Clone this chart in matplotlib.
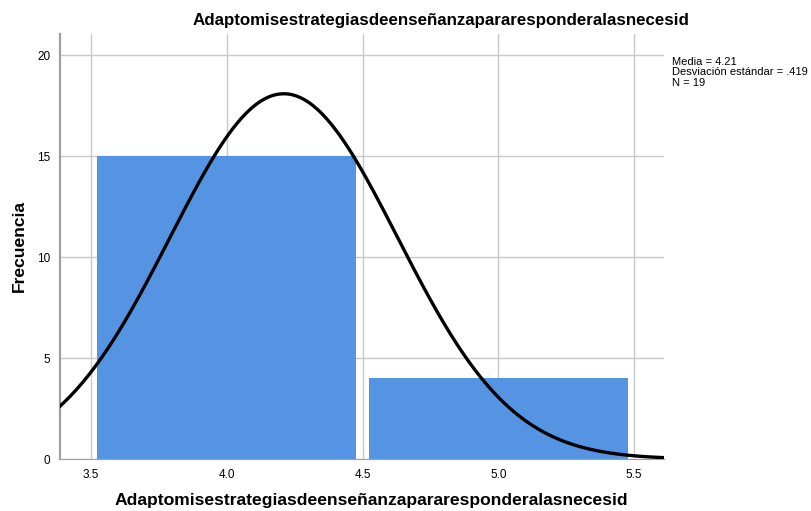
import matplotlib
matplotlib.use("Agg")
import matplotlib.pyplot as plt
import numpy as np

plt.rcParams['font.family'] = ['Liberation Sans', 'DejaVu Sans']

title = "Adaptomisestrategiasdeenseñanzapararesponderalasnecesid"
bin_centers = [4.0, 5.0]
counts = [15, 4]
mean = 4.21
sd = 0.419
n = 19
xticks = [3.5, 4.0, 4.5, 5.0, 5.5]
yticks = [0, 5, 10, 15, 20]

fig = plt.figure(figsize=(8.11, 5.11), dpi=100)
ax = fig.add_axes([60/811, 52/511, 604/811, 425/511])

ax.bar(bin_centers, counts, width=0.952, color='#5594e2', zorder=2)

# curva normal escalada (N * ancho de intervalo)
xs = np.linspace(3.386, 5.61, 400)
pdf = n * 1.0 / (sd * np.sqrt(2 * np.pi)) * np.exp(-0.5 * ((xs - mean) / sd) ** 2)
ax.plot(xs, pdf, color='black', lw=2.4, zorder=3)

ax.set_xlim(3.386, 5.61)
ax.set_ylim(0, 21.05)
ax.set_xticks(xticks)
ax.set_xticklabels(["%.1f" % t for t in xticks])
ax.set_yticks(yticks)
ax.grid(True, color='#c8c8c8', lw=1, zorder=0)
ax.set_axisbelow(True)
ax.tick_params(length=0, labelsize=8.5, pad=7)
for s in ['top', 'right']:
    ax.spines[s].set_visible(False)
ax.spines['left'].set_color('#a0a0a0')
ax.spines['left'].set_linewidth(1.6)
ax.spines['bottom'].set_color('#a0a0a0')

fig.text(371/811, 1 - 500/511, title, fontsize=12.6, fontweight='bold',
         ha='center', va='center')
fig.text(19/811, 1 - 246/511, "Frecuencia", fontsize=12.6, fontweight='bold',
         ha='center', va='center', rotation=90)
fig.text(441/811, 1 - 20/511, title, fontsize=12.2, fontweight='bold',
         ha='center', va='center')
fig.text(672/811, 1 - 57/511,
         "Media = %.2f\nDesviación estándar = .419\nN = %d" % (mean, n),
         fontsize=8, va='top', ha='left', linespacing=1.05)

fig.savefig("out.png", dpi=100)
